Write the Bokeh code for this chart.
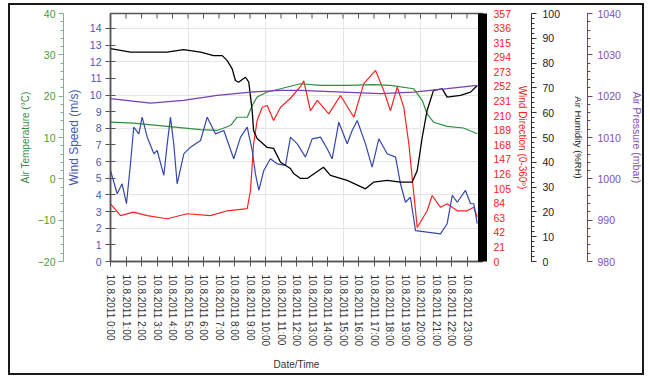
import math
from bokeh.plotting import figure
from bokeh.models import Range1d, LinearAxis, FixedTicker
from bokeh.embed import file_html
from bokeh.resources import INLINE

FONT = "Liberation Sans"

# ---- data (hours since 10.8.2011 0:00) ----
hum_t = [0.00, 1.29, 3.66, 4.71, 5.81, 6.65, 7.21, 7.53, 7.85, 8.06, 8.26, 8.71, 8.92, 9.14,
         9.23, 9.46, 10.11, 10.52, 10.97, 11.61, 11.81, 12.26, 12.69, 13.74, 14.19, 15.27,
         16.45, 16.97, 17.85, 18.71, 19.46, 19.79, 20.11, 20.43, 20.84, 21.40, 21.72, 22.58,
         23.23, 23.66]
hum_v = [85.8, 84.4, 84.4, 85.4, 84.4, 83.0, 83.0, 81.0, 77.7, 73.0, 72.3, 74.3, 72.3, 60.9,
         52.8, 49.6, 46.0, 45.6, 40.0, 37.5, 35.5, 33.5, 33.5, 38.0, 34.7, 32.7,
         29.3, 32.0, 32.7, 32.0, 32.0, 36.7, 50.0, 61.0, 69.0, 69.6, 66.3, 67.0,
         68.3, 71.0]

pres_t = [0.00, 2.58, 4.71, 6.88, 9.03, 10.97, 12.26, 14.19, 17.42, 19.55, 21.72, 23.66]
pres_v = [1019.4, 1018.3, 1019.0, 1020.2, 1021.0, 1021.4, 1021.4, 1021.1, 1020.6, 1021.0,
          1021.8, 1022.6]

temp_t = [0.00, 1.48, 3.66, 5.81, 6.88, 7.74, 8.17, 8.82, 9.14, 9.46, 10.11, 10.97, 12.26,
          13.55, 15.27, 16.97, 18.06, 19.55, 20.11, 20.43, 20.84, 21.72, 22.77, 23.66]
temp_v = [13.7, 13.5, 12.7, 11.9, 11.7, 12.9, 14.9, 14.9, 17.7, 19.8, 21.0, 21.8, 23.0,
          22.6, 22.6, 22.8, 22.6, 21.8, 19.0, 15.7, 13.7, 12.7, 12.3, 10.9]

wdir_t = [0.00, 0.65, 1.48, 2.37, 3.66, 4.95, 6.45, 7.53, 8.82, 9.03, 9.23, 9.46, 9.79,
          10.11, 10.52, 10.97, 11.61, 12.26, 12.47, 12.90, 13.34, 14.08, 14.84, 15.70,
          16.34, 17.10, 17.63, 18.06, 18.50, 18.92, 19.25, 19.46, 19.79, 20.43, 20.75,
          21.29, 21.72, 22.37, 23.01, 23.44, 23.66]
wdir_v = [83, 66, 71, 66, 61.5, 68.7, 66, 73, 76, 102, 169, 203, 222,
          224.5, 203, 222, 235, 252, 260, 217, 232, 212.6, 239, 207.7,
          256, 275, 246, 217, 251, 222, 169, 121, 49, 73, 95,
          78, 83, 73, 73, 78, 64]

ws_t = [0.00, 0.43, 0.75, 1.03, 1.29, 1.50, 1.83, 2.04, 2.37, 2.80, 3.01, 3.44, 3.66, 3.87,
        4.08, 4.30, 4.73, 5.16, 5.81, 6.24, 6.77, 7.31, 7.95, 8.39, 8.82, 9.14, 9.35, 9.57,
        9.89, 10.32, 10.75, 11.29, 11.61, 12.05, 12.58, 13.01, 13.55, 13.98, 14.30, 14.73,
        15.27, 15.59, 15.92, 16.45, 16.88, 17.31, 17.85, 18.39, 18.71, 19.03, 19.35, 19.68,
        20.43, 21.29, 21.72, 22.05, 22.37, 22.90, 23.23, 23.44, 23.66]
ws_v = [5.47, 4.07, 4.67, 3.47, 5.87, 8.07, 7.67, 8.67, 7.47, 6.47, 6.67, 5.17, 7.07, 8.67,
        7.07, 4.67, 6.47, 6.87, 7.27, 8.67, 7.67, 7.87, 6.17, 7.47, 8.07, 6.67, 5.27, 4.27,
        5.47, 6.17, 5.87, 5.77, 7.47, 7.07, 6.27, 7.37, 7.47, 6.77, 6.17, 8.37,
        7.07, 7.87, 8.47, 7.07, 5.67, 7.37, 6.47, 6.27, 4.67, 3.56, 3.86, 1.86,
        1.76, 1.66, 2.27, 3.97, 3.56, 4.27, 3.47, 3.47, 2.27]

x_ticks = list(range(24))
x_labels = ["10.8.2011 %d:00" % h for h in x_ticks]
ws_ticks = list(range(0, 15))
temp_ticks = [-20, -10, 0, 10, 20, 30, 40]
wdir_ticks = list(range(0, 358, 21))
hum_ticks = list(range(0, 101, 10))
pres_ticks = [980, 990, 1000, 1010, 1020, 1030, 1040]

C_TEMP = "#2f8f3f"
C_TEMP_TXT = "#4e9a34"
C_WS = "#3548a8"
C_WS_TXT = "#4858b0"
C_WD = "#ff2020"
C_HUM = "#000000"
C_PRES = "#7a3fb0"
C_PRES_TXT = "#7f52b0"
AX = "#555555"

W, H = 636, 372
FRAME_H = 248
TOP = 8
p = figure(width=W, height=H, x_range=Range1d(0, 24), y_range=Range1d(0, 14.9),
           output_backend="svg", toolbar_location=None,
           x_axis_location=None, y_axis_location=None,
           min_border_left=100, min_border_right=164, min_border_top=TOP,
           min_border_bottom=H - TOP - FRAME_H)
# outer frame of the picture
p.styles = {"border": "2px solid #1a1a1a", "width": "%dpx" % W,
            "margin-left": "8px", "margin-top": "3px"}
p.outline_line_color = AX
p.outline_line_width = 1.5
p.background_fill_color = "white"
p.border_fill_color = "white"

p.extra_y_ranges = {
    "temp": Range1d(-20, 40),
    "wdir": Range1d(0, 357),
    "hum": Range1d(0, 100),
    "pres": Range1d(980, 1040),
}


def style_axis(ax, color_txt, line_color, title_size="10px", label_size="10.5px"):
    ax.major_label_text_font = FONT
    ax.major_label_text_font_size = label_size
    ax.major_label_text_color = color_txt
    ax.axis_label_text_font = FONT
    ax.axis_label_text_font_size = title_size
    ax.axis_label_text_font_style = "normal"
    ax.axis_label_text_color = color_txt
    ax.axis_line_color = line_color
    ax.major_tick_line_color = line_color
    ax.minor_tick_line_color = line_color


def spacer(rng, w):
    return LinearAxis(y_range_name=rng, axis_line_color=None, major_tick_line_color=None,
                      minor_tick_line_color=None, major_tick_out=w, major_tick_in=0,
                      minor_tick_out=0, minor_tick_in=0, major_label_standoff=0,
                      axis_label=None, ticker=FixedTicker(ticks=[], minor_ticks=[]))


# left: wind speed (nearest), spacer, temperature
ax_ws = LinearAxis(axis_label="Wind Speed (m/s)", ticker=FixedTicker(ticks=ws_ticks, minor_ticks=[]))
style_axis(ax_ws, C_WS_TXT, AX, title_size="12px")
ax_ws.major_tick_in = 5
ax_ws.major_tick_out = 5
ax_ws.major_label_standoff = 4
ax_ws.axis_label_standoff = 6
ax_ws.axis_line_width = 1.5
p.add_layout(ax_ws, "left")
p.add_layout(spacer("temp", 10), "left")

ax_t = LinearAxis(y_range_name="temp", axis_label="Air Temperature (°C)",
                  ticker=FixedTicker(ticks=temp_ticks, minor_ticks=list(range(-20, 41, 2))))
style_axis(ax_t, C_TEMP_TXT, "#7fb48c")
ax_t.major_tick_in = 0
ax_t.major_tick_out = 5
ax_t.minor_tick_in = 0
ax_t.minor_tick_out = 3
ax_t.major_label_standoff = 3
ax_t.axis_label_standoff = 4
ax_t.axis_label_text_color = "#3c8c3c"
p.add_layout(ax_t, "left")

# right: wind direction (thick black bar), humidity, pressure
ax_wd = LinearAxis(y_range_name="wdir", axis_label="Wind Direction (0-360º)",
                   ticker=FixedTicker(ticks=wdir_ticks, minor_ticks=[]))
style_axis(ax_wd, C_WD, "black")
ax_wd.axis_line_width = 9
ax_wd.major_tick_line_color = None
ax_wd.major_tick_in = 0
ax_wd.major_tick_out = 0
ax_wd.major_label_standoff = 11
ax_wd.axis_label_standoff = 3
p.add_layout(ax_wd, "right")
p.add_layout(spacer("wdir", 5), "right")

ax_h = LinearAxis(y_range_name="hum", axis_label="Air Humidity (%RH)",
                  ticker=FixedTicker(ticks=hum_ticks, minor_ticks=list(range(0, 101, 2))))
style_axis(ax_h, "#222222", "#333333", title_size="9.5px")
ax_h.major_tick_in = 0
ax_h.major_tick_out = 5
ax_h.minor_tick_in = 0
ax_h.minor_tick_out = 3
ax_h.major_label_standoff = 6
ax_h.axis_label_standoff = 10
p.add_layout(ax_h, "right")

ax_p = LinearAxis(y_range_name="pres", axis_label="Air Pressure (mbar)",
                  ticker=FixedTicker(ticks=pres_ticks, minor_ticks=list(range(980, 1041, 2))))
style_axis(ax_p, C_PRES_TXT, "#6a3a9a", title_size="10.5px")
ax_p.major_tick_in = 0
ax_p.major_tick_out = 5
ax_p.minor_tick_in = 0
ax_p.minor_tick_out = 3
ax_p.major_label_standoff = 5
ax_p.axis_label_standoff = 7
p.add_layout(ax_p, "right")

# bottom x axis
ax_x = LinearAxis(axis_label="Date/Time", ticker=FixedTicker(ticks=x_ticks, minor_ticks=[]))
style_axis(ax_x, "#333333", AX, label_size="10px")
ax_x.major_label_overrides = {t: l for t, l in zip(x_ticks, x_labels)}
ax_x.major_label_orientation = -math.pi / 2
ax_x.major_tick_in = 5
ax_x.major_tick_out = 5
ax_x.major_label_standoff = 8
ax_x.axis_label_standoff = 10
ax_x.axis_line_width = 1.5
p.add_layout(ax_x, "below")

# tick marks along the top edge (inward, 5 px)
y_top = p.y_range.end
tick_len = (p.y_range.end - p.y_range.start) / FRAME_H * 5
p.segment(x0=x_ticks, y0=[y_top] * len(x_ticks), x1=x_ticks,
          y1=[y_top - tick_len] * len(x_ticks), line_color=AX, line_width=1)

# series
p.line(wdir_t, wdir_v, y_range_name="wdir", line_color=C_WD, line_width=1.2)
p.line(temp_t, temp_v, y_range_name="temp", line_color=C_TEMP, line_width=1.2)
p.line(ws_t, ws_v, line_color=C_WS, line_width=1.2)
p.line(hum_t, hum_v, y_range_name="hum", line_color=C_HUM, line_width=1.3)
p.line(pres_t, pres_v, y_range_name="pres", line_color=C_PRES, line_width=1.3)

open("out.html", "w").write(file_html(p, INLINE))
